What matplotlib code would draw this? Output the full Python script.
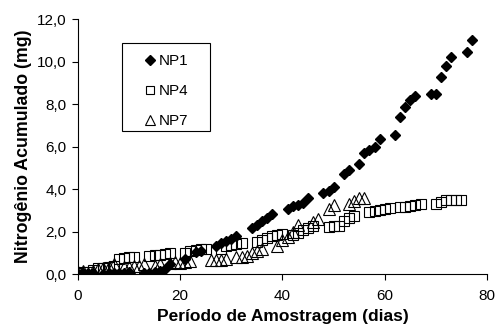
import matplotlib.pyplot as plt
from matplotlib.patches import Rectangle
from matplotlib.ticker import FuncFormatter

plt.rcParams['font.family'] = ['Liberation Sans', 'DejaVu Sans']

# NP1 - diamonds
np1_dias = [0, 1, 2, 3, 5, 6, 7, 8, 9, 10, 13, 14, 15, 16, 17, 18, 21, 23, 24,
            27, 28, 29, 30, 31, 34, 35, 36, 37, 38, 41, 42, 43, 44, 45, 48, 49, 50,
            52, 53, 55, 56, 57, 58, 59, 62, 63, 64, 65, 66, 69, 70, 71, 72, 73, 76, 77]
np1_n = [0.02, 0.03, 0.05, 0.05, 0.02, 0.03, 0.03, 0.05, 0.06, 0.08, 0.05, 0.07, 0.1,
         0.15, 0.25, 0.45, 0.7, 1.02, 1.1, 1.3, 1.45, 1.55, 1.65, 1.8, 2.15, 2.3, 2.5,
         2.65, 2.85, 3.05, 3.2, 3.25, 3.35, 3.6, 3.8, 3.9, 4.1, 4.7, 4.9, 5.2, 5.7,
         5.85, 6.0, 6.35, 6.56, 7.39, 7.86, 8.17, 8.4, 8.48, 8.48, 9.26, 9.8, 10.2,
         10.47, 11.0]

# NP4 - squares
np4_dias = [0, 1, 2, 3, 4, 5, 6, 7, 8, 9, 10, 11, 14, 15, 16, 17, 18, 21, 22, 23, 24,
            25, 28, 29, 30, 31, 32, 35, 36, 37, 38, 39, 40, 42, 43, 44, 45, 46, 49, 50,
            51, 52, 53, 54, 57, 58, 59, 60, 61, 63, 64, 65, 66, 67, 70, 71, 72, 73, 74, 75]
np4_n = [0.05, 0.1, 0.1, 0.2, 0.3, 0.3, 0.35, 0.4, 0.7, 0.75, 0.8, 0.8, 0.85, 0.9, 0.9,
         0.95, 1.0, 1.0, 1.1, 1.15, 1.2, 1.2, 1.2, 1.3, 1.35, 1.4, 1.45, 1.5, 1.6, 1.7,
         1.8, 1.85, 1.9, 1.85, 1.95, 2.05, 2.15, 2.25, 2.2, 2.25, 2.28, 2.5, 2.65, 2.75,
         2.9, 2.95, 3.0, 3.05, 3.1, 3.15, 3.15, 3.2, 3.25, 3.3, 3.3, 3.4, 3.5, 3.5, 3.5,
         3.5]

# NP7 - triangles
np7_dias = [0, 1, 3, 4, 5, 6, 7, 9, 10, 11, 12, 13, 15, 16, 18, 19, 20, 21, 22, 26, 27,
            28, 29, 31, 32, 33, 34, 35, 36, 39, 40, 41, 42, 43, 46, 47, 49, 50, 53, 54,
            55, 56]
np7_n = [0.1, 0.15, 0.15, 0.25, 0.3, 0.35, 0.45, 0.35, 0.35, 0.4, 0.4, 0.45, 0.4, 0.45,
         0.5, 0.55, 0.5, 0.55, 0.6, 0.65, 0.65, 0.65, 0.7, 0.8, 0.8, 0.85, 0.97, 1.1,
         1.2, 1.3, 1.6, 1.75, 2.0, 2.3, 2.45, 2.6, 3.05, 3.25, 3.3, 3.45, 3.6, 3.6]

fig = plt.figure(figsize=(4.96, 3.29), dpi=100)
ax = fig.add_axes([0.157, 0.167, 0.825, 0.775])

ax.plot(np1_dias, np1_n, 'D', color='black', markersize=5.2, linestyle='none', label='NP1')
ax.plot(np4_dias, np4_n, 's', markerfacecolor='none', markeredgecolor='black',
        markeredgewidth=0.8, markersize=6.5, linestyle='none', label='NP4')
ax.plot(np7_dias, np7_n, '^', markerfacecolor='none', markeredgecolor='black',
        markeredgewidth=0.8, markersize=8, linestyle='none', label='NP7')

ax.set_xlim(0, 80)
ax.set_ylim(0, 12)
ax.set_xticks([0, 20, 40, 60, 80])
ax.set_yticks([0, 2, 4, 6, 8, 10, 12])
ax.yaxis.set_major_formatter(FuncFormatter(lambda v, p: f'{v:.1f}'.replace('.', ',')))
ax.spines['top'].set_visible(False)
ax.spines['right'].set_visible(False)
ax.tick_params(direction='out', length=4, width=0.8, labelsize=11)
ax.tick_params(axis='x', pad=7)
ax.tick_params(axis='y', pad=4)

ax.set_xlabel('Período de Amostragem (dias)', fontsize=12.5, fontweight='bold', labelpad=4)
ax.set_ylabel('Nitrogênio Acumulado (mg)', fontsize=12.8, fontweight='bold', labelpad=4)

# legend frame drawn separately so its size matches the original box
ax.add_patch(Rectangle((0.107, 0.562), 0.217, 0.343, transform=ax.transAxes,
                       facecolor='white', edgecolor='black', linewidth=0.8, zorder=4))
leg = ax.legend(loc='upper left', bbox_to_anchor=(0.162, 0.863), fontsize=11,
                frameon=False, labelspacing=1.05, handletextpad=0.15, handlelength=0.8,
                borderpad=0, borderaxespad=0, markerscale=0.9)
leg.set_zorder(5)

fig.savefig('out.png', dpi=100)
